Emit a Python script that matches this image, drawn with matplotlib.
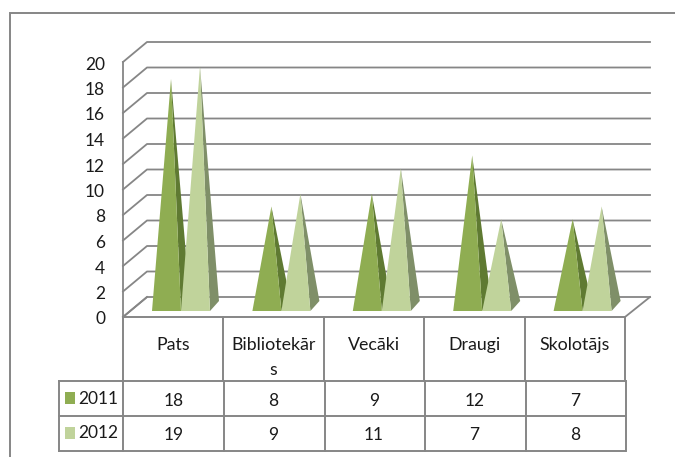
import matplotlib
matplotlib.use("Agg")
import matplotlib.pyplot as plt
from matplotlib.patches import Polygon, Rectangle

plt.rcParams["font.family"] = ["Lato", "DejaVu Sans"]

categories = ["Pats", "Bibliotekār\ns", "Vecāki", "Draugi", "Skolotājs"]
series_names = ["2011", "2012"]
values_2011 = [18, 8, 9, 12, 7]
values_2012 = [19, 9, 11, 7, 8]
y_ticks = [0, 2, 4, 6, 8, 10, 12, 14, 16, 18, 20]

GRID = "#868686"
TEXT = "#1a1a1a"
front_colors = ["#8FAD52", "#C0D39B"]
side_colors = ["#5F7A32", "#7F8F68"]

# box geometry, in pixels of the 675x457 picture
LEFT, RIGHT = 123, 625
DEPTH_X, DEPTH_Y = 24, 20
FLOOR_Y, UNIT = 317, 12.75


def wall_y(v):
    return FLOOR_Y - UNIT * v


fig = plt.figure(figsize=(6.75, 4.57), dpi=100)
ax = fig.add_axes([0, 0, 1, 1])
ax.set_xlim(0, 675)
ax.set_ylim(457, 0)
ax.axis("off")

# outer chart frame, cropped at right and bottom
ax.plot([10, 10, 675], [457, 13, 13], color=GRID, lw=1.4, solid_joinstyle="miter")

# walls and gridlines
for v in y_ticks:
    y = wall_y(v)
    ax.plot([LEFT, LEFT + DEPTH_X, 650], [y, y - DEPTH_Y, y - DEPTH_Y], color=GRID, lw=1.3, zorder=1)
    ax.text(105, y + 2.5, str(v), ha="right", va="center", fontsize=12.5, color=TEXT)
ax.plot([LEFT, LEFT], [wall_y(20), FLOOR_Y], color=GRID, lw=1.3, zorder=1)
ax.plot([LEFT + DEPTH_X, LEFT], [FLOOR_Y - DEPTH_Y, FLOOR_Y], color=GRID, lw=1.3, zorder=1)
ax.plot([650, RIGHT], [FLOOR_Y - DEPTH_Y, FLOOR_Y], color=GRID, lw=1.3, zorder=1)

# pyramids
col_w = (RIGHT - LEFT) / len(categories)
base_w, base_y = 29, 311
for s, vals in enumerate([values_2011, values_2012]):
    for i, v in enumerate(vals):
        x0 = LEFT + 29 + i * col_w + s * base_w
        apex = (x0 + base_w / 2 + 4.5, wall_y(v) - 8.5)
        ax.add_patch(Polygon([(x0 + base_w, base_y), (x0 + base_w + 9, base_y - 10), apex],
                             facecolor=side_colors[s], edgecolor="none", zorder=2 + s))
        ax.add_patch(Polygon([(x0, base_y), (x0 + base_w, base_y), apex],
                             facecolor=front_colors[s], edgecolor="none", zorder=2 + s))

# data table
row_lines = [317, 381, 416, 451]
LEGEND_X = 59
for i in range(len(categories) + 1):
    x = LEFT + i * col_w
    ax.plot([x, x], [row_lines[0], row_lines[1]], color=GRID, lw=1.4, zorder=4)
    ax.plot([x + (1 if i else 0)] * 2, [row_lines[1], row_lines[3]], color=GRID, lw=1.4, zorder=4)
ax.plot([LEFT, RIGHT], [row_lines[0]] * 2, color=GRID, lw=1.4, zorder=4)
for y in row_lines[1:]:
    ax.plot([LEGEND_X, RIGHT], [y, y], color=GRID, lw=1.4, zorder=4)
ax.plot([LEGEND_X, LEGEND_X], [row_lines[1], row_lines[3]], color=GRID, lw=1.4, zorder=4)

for i, name in enumerate(categories):
    cx = LEFT + (i + 0.5) * col_w
    for j, part in enumerate(name.split("\n")):
        ax.text(cx, 345 + j * 25, part, ha="center", va="center", fontsize=12.8, color=TEXT)

for s, vals in enumerate([values_2011, values_2012]):
    row_y = (row_lines[s + 1] + row_lines[s + 2]) / 2
    ax.add_patch(Rectangle((65, row_y - 6.5), 10, 11.5, facecolor=front_colors[s], edgecolor="none"))
    ax.text(98, row_y, series_names[s], ha="center", va="center", fontsize=12.5, color=TEXT)
    for i, v in enumerate(vals):
        ax.text(LEFT + (i + 0.5) * col_w, row_y + 2, str(v), ha="center", va="center", fontsize=12.5, color=TEXT)

fig.savefig("out.png", dpi=100)
